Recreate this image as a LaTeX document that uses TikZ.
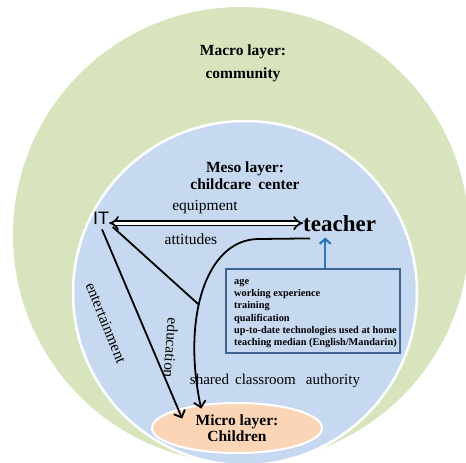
\documentclass[tikz,border=0pt]{standalone}
\usepackage{fontspec}
\setmainfont{Liberation Serif}
\newfontfamily\itfont{Liberation Sans}
\usetikzlibrary{arrows.meta,shapes.geometric}

\definecolor{macrogreen}{HTML}{D7E4BD}
\definecolor{mesoblue}{HTML}{C6D9F1}
\definecolor{microorange}{HTML}{FBD5B5}
\definecolor{frameblue}{HTML}{41648F}
\definecolor{linkblue}{HTML}{2B78C2}

\tikzset{
  layertitle/.style={font=\bfseries\fontsize{15.5}{17}\selectfont, align=center, inner sep=0},
  linklabel/.style={font=\fontsize{15.5}{17}\selectfont, inner sep=0},
  flow/.style={line width=1.8pt, -{Straight Barb[length=6pt,width=12pt]}},
  plainlink/.style={line width=1.8pt},
  twoway/.style={double, double distance=3pt, line width=1.7pt,
    {Implies[length=7pt,width=13pt]}-{Implies[length=7pt,width=13pt]}},
  factorbox/.style={draw=frameblue, line width=2.4pt, fill=mesoblue, inner sep=0,
    minimum width=174pt, minimum height=84pt, anchor=north west},
  uplink/.style={draw=linkblue, line width=2.2pt, -{Straight Barb[length=5pt,width=11pt]}}
}

\begin{document}
\begin{tikzpicture}[x=1pt,y=-1pt]
\useasboundingbox (0,0) rectangle (466,463);
\clip (0,0) rectangle (466,463);

% nested layers
\fill[macrogreen] (241,235) circle [radius=228];
\filldraw[fill=mesoblue, draw=white, line width=2.5pt] (245,293) circle [radius=172];

\node[layertitle, font=\bfseries\fontsize{15.5}{23}\selectfont] (macro) at (243,63)
  {Macro layer:\\community};
\node[layertitle] (meso) at (245,176) {Meso layer:\\childcare\hspace{7pt}center};

\node[ellipse, fill=microorange, draw=white, line width=2pt,
      minimum width=170pt, minimum height=50pt, inner sep=0,
      font=\bfseries\fontsize{15.5}{16}\selectfont, align=center] (children) at (237,428)
  {Micro layer:\\Children};

% actors
\node[font=\itfont\fontsize{18}{18}\selectfont, inner sep=0] (IT) at (101,218) {IT};
\node[font=\bfseries\fontsize{23}{23}\selectfont, inner sep=0, anchor=base west] (teacher)
  at (303,231) {teacher};

% teacher factors
\node[factorbox] (box) at (225,268) {};
\node[font=\bfseries\fontsize{10.3}{12.2}\selectfont, align=left, inner sep=0, anchor=north west]
  (factors) at ([xshift=9pt,yshift=-11pt]box.north west)
  {age\\working experience\\training\\qualification\\
   up-to-date technologies used at home\\teaching median (English/Mandarin)};
\draw[uplink] ([xshift=12pt]box.north) -- ([xshift=12pt,yshift=-6pt]box.north |- teacher.south);

% links between IT, teacher and children
\draw[twoway] (IT.east |- teacher.west) -- (teacher.west);
\node[linklabel] (equip) at (205,207) {equipment};
\node[linklabel] (att) at (191,239) {attitudes};

\draw[flow] ([xshift=7pt,yshift=-7pt]teacher.south west) -- (258,239)
  .. controls (205,240) and (182,320) .. coordinate[pos=0.57] (join)
  ([xshift=25pt,yshift=1pt]children.north west);
\draw[plainlink] ([xshift=3.5pt,yshift=-2.5pt]IT.south east) -- (join);
\draw[flow] ([xshift=1pt,yshift=-5pt]IT.south) -- ([xshift=6pt,yshift=-9pt]children.north west);

\node[linklabel, rotate=-68] (ent) at (106,323) {entertainment};
\node[linklabel, rotate=-94] (edu) at (171,348) {education};
\node[linklabel, font=\fontsize{15}{17}\selectfont] (shared) at (275,381)
  {shared\hspace{6pt}classroom\hspace{10pt}authority};

\end{tikzpicture}
\end{document}
